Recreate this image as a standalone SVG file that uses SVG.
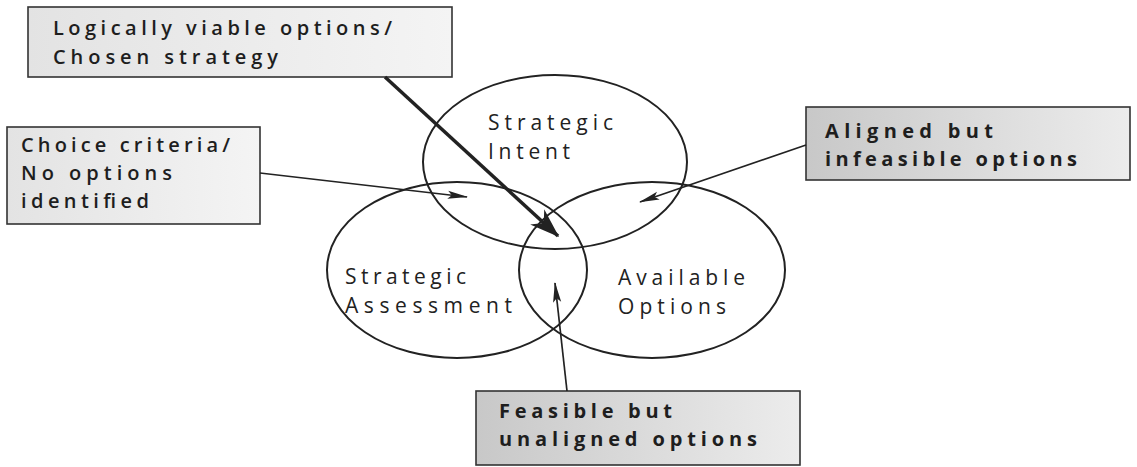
<svg xmlns="http://www.w3.org/2000/svg" width="1137" height="467" viewBox="0 0 1137 467">
  <defs>
    <linearGradient id="boxFill" x1="0" y1="0" x2="1" y2="0">
      <stop offset="0" stop-color="#c8c8c8"/>
      <stop offset="1" stop-color="#ececec"/>
    </linearGradient>
    <linearGradient id="boxFillLight" x1="0" y1="0" x2="1" y2="0">
      <stop offset="0" stop-color="#e3e3e3"/>
      <stop offset="1" stop-color="#f4f4f4"/>
    </linearGradient>
    <marker id="arrow" viewBox="0 0 10 10" refX="9.5" refY="5" markerWidth="12" markerHeight="12" orient="auto" markerUnits="strokeWidth">
      <path d="M0,3 L10,5 L0,7 L2,5 Z" fill="#222"/>
    </marker>
    <marker id="arrowBig" viewBox="0 0 10 10" refX="9.5" refY="5" markerWidth="8.5" markerHeight="8.5" orient="auto" markerUnits="strokeWidth">
      <path d="M0,1.5 L10,5 L0,8.5 L3,5 Z" fill="#222"/>
    </marker>
  </defs>
  <style>
    .set { fill: none; stroke: #222; stroke-width: 2; }
    .set-label { font-family: "Open Sans", "Liberation Sans", sans-serif; font-size: 21px; fill: #222; }
    .box { stroke: #333; stroke-width: 1.6; }
    .box-label { font-family: "Open Sans", "Liberation Sans", sans-serif; font-size: 20px; font-weight: 600; fill: #1e1e1e; }
    .box-label.strong { font-weight: 700; }
    .link { fill: none; stroke: #222; stroke-width: 1.7; }
    .link-main { fill: none; stroke: #222; stroke-width: 3.5; }
  </style>
  <rect width="1137" height="467" fill="#ffffff"/>

  <!-- the three overlapping sets -->
  <g id="intent">
    <ellipse class="set" cx="555" cy="162" rx="132" ry="87"/>
    <text class="set-label" x="488" y="130" textLength="125" lengthAdjust="spacing">Strategic</text>
    <text class="set-label" x="488" y="159" textLength="82" lengthAdjust="spacing">Intent</text>
  </g>
  <g id="assessment">
    <ellipse class="set" cx="457" cy="270" rx="130" ry="88"/>
    <text class="set-label" x="345" y="284" textLength="121" lengthAdjust="spacing">Strategic</text>
    <text class="set-label" x="345" y="313" textLength="167" lengthAdjust="spacing">Assessment</text>
  </g>
  <g id="options">
    <ellipse class="set" cx="652" cy="270" rx="133" ry="88"/>
    <text class="set-label" x="618" y="285" textLength="127" lengthAdjust="spacing">Available</text>
    <text class="set-label" x="618" y="314" textLength="108" lengthAdjust="spacing">Options</text>
  </g>

  <!-- callout boxes -->
  <g id="viable">
    <rect class="box" x="28" y="7" width="424" height="70" fill="url(#boxFillLight)"/>
    <text class="box-label" x="53" y="35" textLength="339" lengthAdjust="spacing">Logically viable options/</text>
    <text class="box-label" x="53" y="64" textLength="225" lengthAdjust="spacing">Chosen strategy</text>
  </g>
  <g id="criteria">
    <rect class="box" x="7" y="127" width="253" height="97" fill="url(#boxFillLight)"/>
    <text class="box-label" x="21" y="152" textLength="209" lengthAdjust="spacing">Choice criteria/</text>
    <text class="box-label" x="21" y="180" textLength="151" lengthAdjust="spacing">No options</text>
    <text class="box-label" x="21" y="208" textLength="128" lengthAdjust="spacing">identified</text>
  </g>
  <g id="aligned">
    <rect class="box" x="806" y="107" width="324" height="73" fill="url(#boxFill)"/>
    <text class="box-label strong" x="825" y="138" textLength="168" lengthAdjust="spacing">Aligned but</text>
    <text class="box-label strong" x="825" y="166" textLength="252" lengthAdjust="spacing">infeasible options</text>
  </g>
  <g id="feasible">
    <rect class="box" x="476" y="391" width="324" height="74" fill="url(#boxFill)"/>
    <text class="box-label strong" x="499" y="418" textLength="173" lengthAdjust="spacing">Feasible but</text>
    <text class="box-label strong" x="499" y="446" textLength="258" lengthAdjust="spacing">unaligned options</text>
  </g>

  <!-- connectors from the callouts into the regions -->
  <g id="connectors">
    <line class="link-main" x1="385" y1="77" x2="558" y2="236" marker-end="url(#arrowBig)"/>
    <line class="link" x1="260" y1="173" x2="467" y2="197" marker-end="url(#arrow)"/>
    <line class="link" x1="806" y1="145" x2="640" y2="202" marker-end="url(#arrow)"/>
    <line class="link" x1="567" y1="391" x2="555" y2="283" marker-end="url(#arrow)"/>
  </g>
</svg>
